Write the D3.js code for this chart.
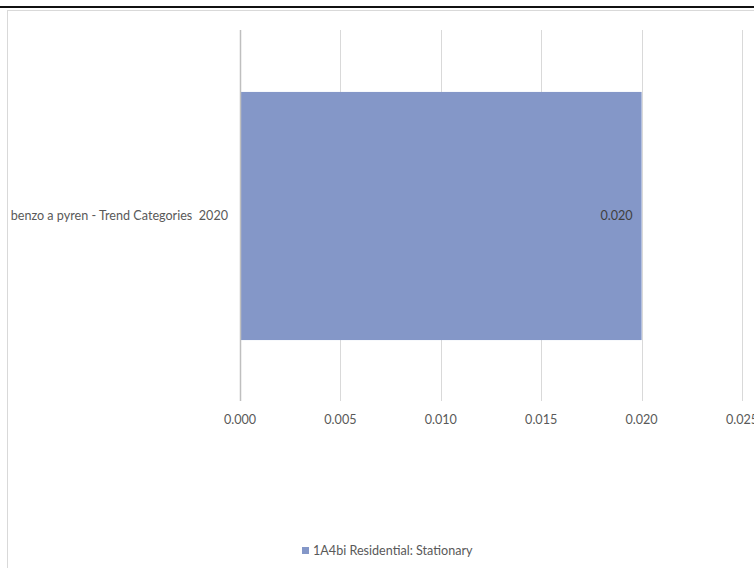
<!DOCTYPE html>
<html><head><meta charset="utf-8">
<script src="https://cdn.jsdelivr.net/npm/d3@7"></script>
<style>html,body{margin:0;padding:0;background:#fff;overflow:hidden}text{white-space:pre}</style>
</head><body>
<script>
const categories = ["benzo a pyren - Trend Categories  2020"];
const seriesNames = ["1A4bi Residential: Stationary"];
const values = [0.020];
const tickValues = [0, 0.005, 0.010, 0.015, 0.020, 0.025];

const W = 754, H = 568;
const font = "Lato, 'Open Sans', sans-serif";
const fs = 12.6;
const textColor = "#595959";
const barColor = "#8497c8";

const svg = d3.select("body").append("svg").attr("width", W).attr("height", H);

// top black rule
svg.append("line").attr("x1", 0).attr("x2", W).attr("y1", 7).attr("y2", 7)
  .attr("stroke", "#111").attr("stroke-width", 2);
// chart border
svg.append("rect").attr("x", 7.5).attr("y", 10.5).attr("width", W + 10).attr("height", H + 10)
  .attr("fill", "none").attr("stroke", "#d9d9d9").attr("stroke-width", 1);

const x = d3.scaleLinear().domain([0, 0.025]).range([240, 742]);
const y = d3.scaleBand().domain(categories).range([30, 402]).paddingInner(0.333).paddingOuter(0.1665);
const plotTop = 30, plotBottom = 401;

// gridlines
svg.append("g").selectAll("line").data(tickValues.slice(1)).join("line")
  .attr("x1", d => Math.round(x(d)) + 0.5).attr("x2", d => Math.round(x(d)) + 0.5)
  .attr("y1", plotTop).attr("y2", plotBottom)
  .attr("stroke", "#d9d9d9").attr("stroke-width", 1);

// bars
svg.append("g").selectAll("rect").data(values).join("rect")
  .attr("x", x(0)).attr("y", (d, i) => y(categories[i]))
  .attr("width", d => x(d) - x(0)).attr("height", y.bandwidth())
  .attr("fill", barColor);

// value axis line at zero
svg.append("line").attr("x1", Math.round(x(0)) + 0.5).attr("x2", Math.round(x(0)) + 0.5)
  .attr("y1", plotTop).attr("y2", plotBottom)
  .attr("stroke", "#bfbfbf").attr("stroke-width", 1.5);

// x tick labels
svg.append("g").selectAll("text").data(tickValues).join("text")
  .attr("x", d => x(d)).attr("y", 424)
  .attr("text-anchor", "middle")
  .attr("font-family", font).attr("font-size", fs).attr("fill", textColor)
  .text(d3.format(".3f"));

// category labels
svg.append("g").selectAll("text").data(categories).join("text")
  .attr("x", 228).attr("y", d => y(d) + y.bandwidth() / 2 + 4)
  .attr("text-anchor", "end")
  .attr("font-family", font).attr("font-size", fs).attr("fill", textColor)
  .text(d => d);

// data labels
svg.append("g").selectAll("text").data(values).join("text")
  .attr("x", d => x(d) - 9).attr("y", (d, i) => y(categories[i]) + y.bandwidth() / 2 + 4)
  .attr("text-anchor", "end")
  .attr("font-family", font).attr("font-size", fs).attr("fill", "#404040")
  .text(d3.format(".3f"));

// legend
const lg = svg.append("g").attr("transform", "translate(302,551)");
lg.append("rect").attr("x", 0).attr("y", -4).attr("width", 7).attr("height", 7).attr("fill", barColor);
lg.append("text").attr("x", 11).attr("y", 4)
  .attr("font-family", font).attr("font-size", fs).attr("fill", textColor)
  .text(seriesNames[0]);
</script>
</body></html>
